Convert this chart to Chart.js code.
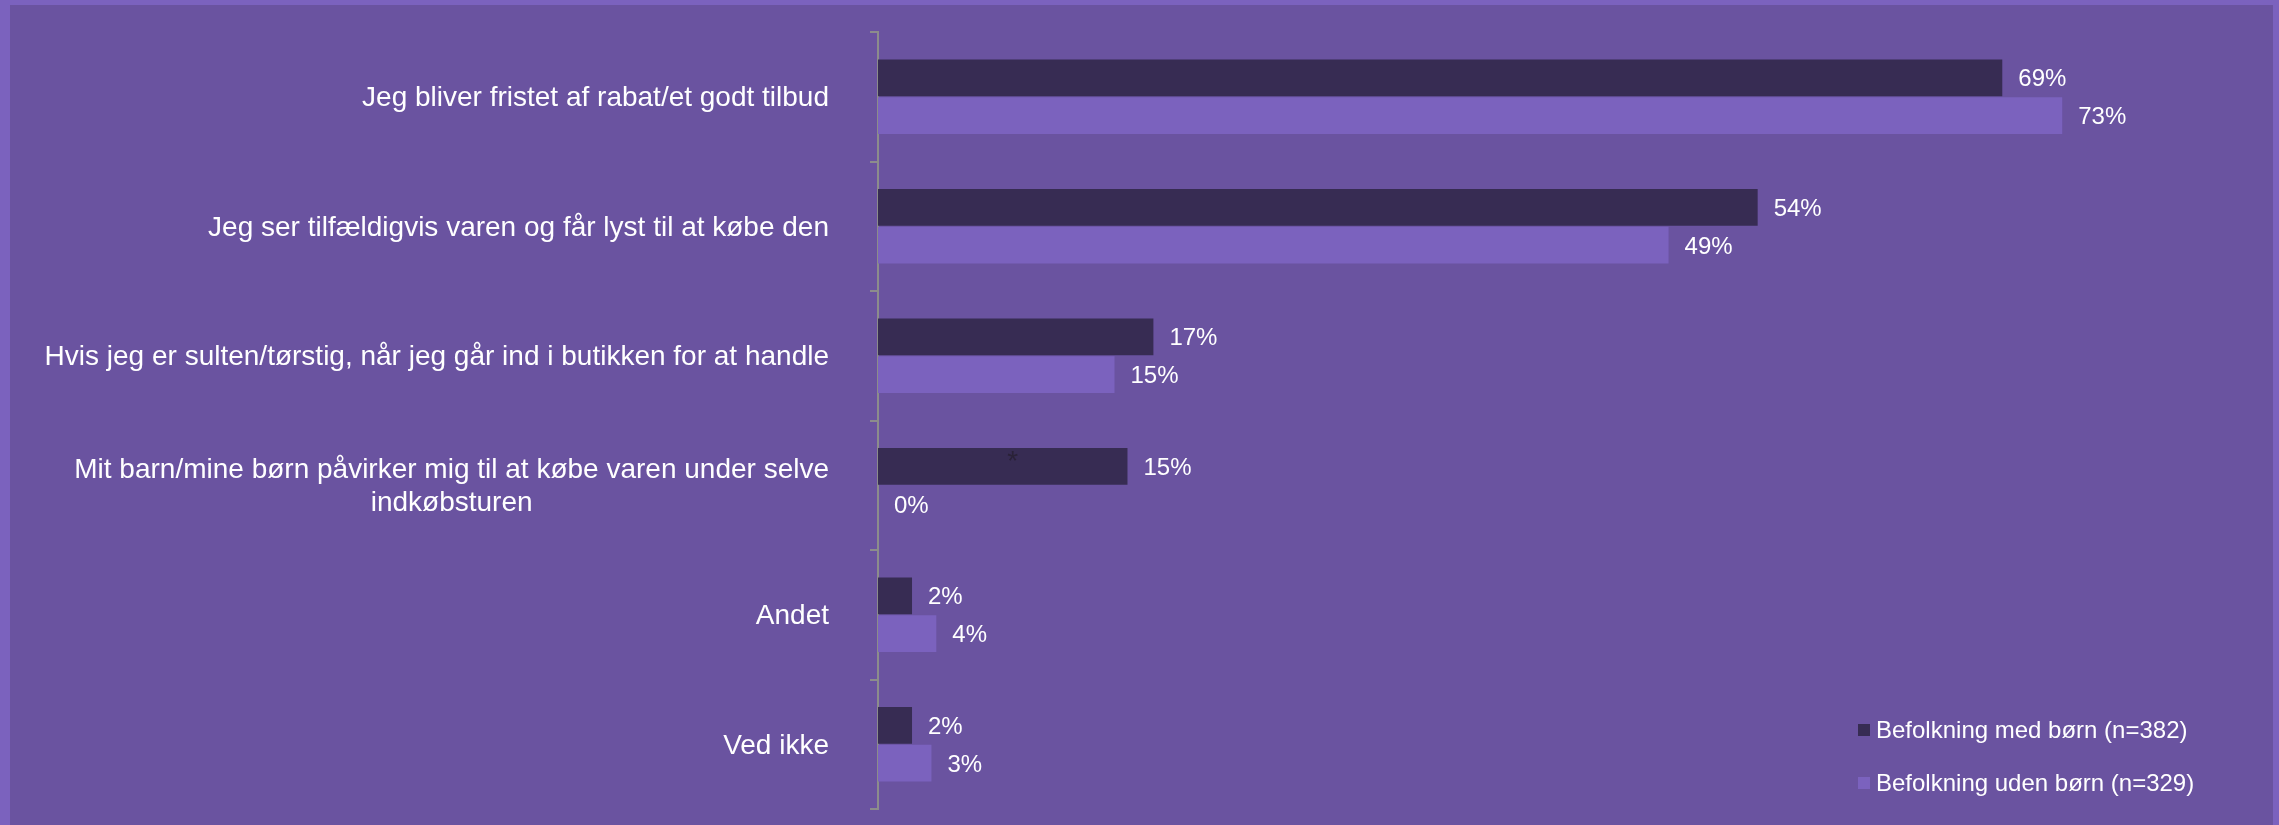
<!DOCTYPE html>
<html>
<head>
<meta charset="utf-8">
<script src="https://cdn.jsdelivr.net/npm/chart.js@4.4.1/dist/chart.umd.min.js"></script>
<style>
  html, body { margin: 0; padding: 0; background: #7B62BE; overflow: hidden; }
  #wrap { position: absolute; left: 10px; top: 5px; width: 2263px; height: 820px; background: #6A53A0; }
  canvas { display: block; }
</style>
</head>
<body>
<div id="wrap"><canvas id="chart"></canvas></div>
<script>
// Kategorier (y-aksen)
const categories = [
    'Jeg bliver fristet af rabat/et godt tilbud',
    'Jeg ser tilfældigvis varen og får lyst til at købe den',
    'Hvis jeg er sulten/tørstig, når jeg går ind i butikken for at handle',
    ['Mit barn/mine børn påvirker mig til at købe varen under selve', 'indkøbsturen'],
    'Andet',
    'Ved ikke'
];
const seriesNames = ['Befolkning med børn (n=382)', 'Befolkning uden børn (n=329)'];
const medBoern = [69.4, 54.3, 17.0, 15.4, 2.1, 2.1];
const udenBoern = [73.1, 48.8, 14.6, 0, 3.6, 3.3];
const colors = ['#372C53', '#7B62BE'];
const starredCategory = 3; // lille "*" på baren

const FONT = '"Liberation Sans", Arial, Helvetica, sans-serif';

const labelPlugin = {
    id: 'labelPlugin',
    afterDatasetsDraw(chart) {
        const ctx = chart.ctx;
        ctx.save();
        // Værdier efter barerne
        ctx.font = '24px ' + FONT;
        ctx.fillStyle = '#FFFFFF';
        ctx.textBaseline = 'middle';
        ctx.textAlign = 'left';
        chart.data.datasets.forEach((ds, i) => {
            chart.getDatasetMeta(i).data.forEach((bar, j) => {
                ctx.fillText(Math.round(ds.data[j]) + '%', bar.x + 16, bar.y + 2);
            });
        });
        // Stjerne
        const sb = chart.getDatasetMeta(0).data[starredCategory];
        ctx.font = '28px ' + FONT;
        ctx.fillStyle = '#2A2238';
        ctx.textAlign = 'center';
        ctx.fillText('*', (sb.base + sb.x) / 2 + 10, sb.y - 4);
        // Kategorier
        const yScale = chart.scales.y;
        ctx.fillStyle = '#FFFFFF';
        const right = chart.chartArea.left - 49;
        categories.forEach((lab, i) => {
            const lines = Array.isArray(lab) ? lab : [lab];
            const w = Math.max(...lines.map(l => ctx.measureText(l).width));
            const cx = right - w / 2;
            const cy = yScale.getPixelForValue(i);
            lines.forEach((l, k) => {
                ctx.fillText(l, cx, cy + (k - (lines.length - 1) / 2) * 33 + 2);
            });
        });
        ctx.restore();
    },
    afterDraw(chart) {
        // Forklaring nederst til højre
        const ctx = chart.ctx;
        ctx.save();
        ctx.font = '24px ' + FONT;
        ctx.textBaseline = 'middle';
        ctx.textAlign = 'left';
        seriesNames.forEach((name, i) => {
            const y = 725 + i * 53;
            ctx.fillStyle = colors[i];
            ctx.fillRect(1848, y - 6, 12, 12);
            ctx.fillStyle = '#FFFFFF';
            ctx.fillText(name, 1866, y + 1);
        });
        ctx.restore();
    }
};

const ctx = document.getElementById('chart').getContext('2d');
new Chart(ctx, {
    type: 'bar',
    data: {
        labels: categories,
        datasets: [
            {
                label: seriesNames[0],
                data: medBoern,
                backgroundColor: colors[0],
                categoryPercentage: 0.584,
                barPercentage: 0.97
            },
            {
                label: seriesNames[1],
                data: udenBoern,
                backgroundColor: colors[1],
                categoryPercentage: 0.584,
                barPercentage: 0.97
            }
        ]
    },
    options: {
        indexAxis: 'y',
        responsive: true,
        maintainAspectRatio: false,
        animation: false,
        layout: {
            padding: { left: 860, right: 99, top: 27, bottom: 16 }
        },
        plugins: {
            legend: { display: false },
            tooltip: { enabled: false }
        },
        scales: {
            x: {
                display: false,
                min: 0,
                max: 80
            },
            y: {
                z: 1,
                ticks: { display: false },
                grid: {
                    drawOnChartArea: false,
                    drawTicks: true,
                    tickLength: 8,
                    color: '#8C8C8C',
                    lineWidth: 2
                },
                border: { display: true, color: '#8C8C8C', width: 2 }
            }
        }
    },
    plugins: [labelPlugin]
});
</script>
</body>
</html>
